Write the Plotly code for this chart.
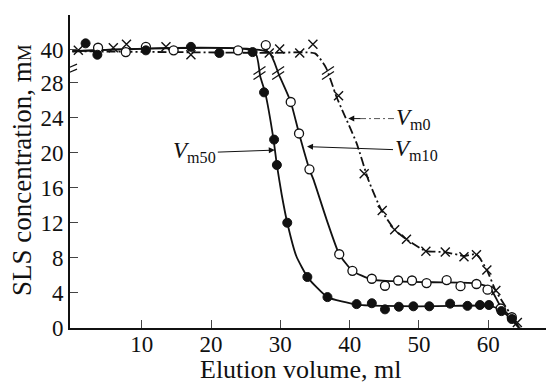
import numpy as np
import plotly.graph_objects as go

# ---------------- data (real SLS concentration, mM) ----------------
# V_m50 : filled circles
vm50_x = [1.9, 3.6, 10.6, 17.1, 21.2, 26.0, 27.65, 29.1, 29.5, 31.0, 33.9, 36.8, 41.0, 43.2,
          45.1, 47.1, 49.2, 51.5, 54.5, 57.0, 58.8, 60.1, 61.9, 63.4]
vm50_y = [40.7, 39.4, 39.9, 40.3, 39.6, 39.7, 26.9, 21.5, 18.6, 12.0, 5.8, 3.5, 2.7, 2.8,
          2.1, 2.4, 2.45, 2.45, 2.75, 2.5, 2.6, 2.6, 1.9, 1.0]
# V_m10 : open circles
vm10_x = [3.7, 7.7, 10.6, 14.6, 23.9, 27.9, 31.5, 32.7, 34.2, 38.5, 40.4, 43.2, 45.1, 47.0,
          49.0, 51.1, 54.0, 56.0, 58.3, 59.9, 61.8, 63.4]
vm10_y = [40.2, 39.7, 40.3, 39.9, 39.9, 40.5, 25.8, 22.2, 18.1, 8.4, 6.5, 5.6, 4.8, 5.4,
          5.4, 5.1, 5.45, 4.75, 5.0, 4.35, 2.2, 1.2]
# V_m0 : crosses
vm0_x = [0.85, 5.9, 7.8, 13.5, 17.1, 28.4, 29.9, 32.8, 34.7, 38.4, 42.1, 44.7, 46.5, 48.2,
         51.0, 53.8, 56.5, 58.3, 59.8, 61.1, 64.2]
vm0_y = [39.9, 40.2, 40.6, 40.3, 39.4, 39.6, 40.05, 39.6, 40.6, 26.5, 17.6, 13.4, 11.2, 10.1,
         8.75, 8.65, 8.1, 8.35, 6.6, 4.25, 0.6]

# hand-drawn curves
c50_x = [0, 26.3, 27.1, 27.8, 29.0, 29.5, 30.2, 31.0, 32.3, 34.0, 36.8, 41.0, 45.0, 50.0, 55.0,
         60.3, 61.8, 63.3, 64.4]
c50_y = [39.8, 39.75, 30.0, 26.9, 21.6, 18.6, 15.2, 12.0, 8.2, 5.7, 3.5, 2.65, 2.5, 2.45, 2.5,
         2.5, 2.0, 1.0, 0.0]
c10_x = [0, 28.3, 29.8, 31.5, 32.7, 34.2, 34.8, 36.7, 38.5, 40.4, 43.2, 47.0, 52.0, 58.0,
         60.2, 61.8, 63.4, 64.5]
c10_y = [39.8, 39.7, 31.4, 25.8, 22.2, 18.1, 16.9, 12.3, 8.4, 6.5, 5.5, 5.3, 5.2, 5.1,
         4.6, 2.4, 1.1, 0.0]
c0_x = [0, 28.4, 35.0, 36.6, 38.1, 41.0, 42.7, 44.6, 46.5, 48.2, 51.0, 53.8, 56.5,
        58.3, 59.8, 61.1, 64.1, 64.6]
c0_y = [39.8, 39.6, 39.55, 37.3, 26.4, 21.1, 16.9, 13.4, 11.2, 10.1, 8.77, 8.65, 8.2,
        8.4, 6.6, 4.2, 0.5, 0.0]

y_ticks = [0, 4, 8, 12, 16, 20, 24, 28, 40]
x_ticks = [10, 20, 30, 40, 50, 60]

# ---------------- broken y axis: 28 .. 40 is compressed ----------------
def disp(v):
    return np.interp(np.asarray(v, dtype=float), [0, 28.5, 38.0, 50.0], [0, 28.5, 29.8, 41.8])

BREAK_Y = 29.1
XR = [-0.35, 69.2]
YR = [-0.03, 35.74]
FONT = "Liberation Serif"
INK = "#111111"

fig = go.Figure()

def curve(x, y, dash):
    fig.add_trace(go.Scatter(x=x, y=disp(y), mode="lines", line=dict(color=INK, width=1.8, dash=dash,
                                                                  shape="spline", smoothing=0.5),
                             hoverinfo="skip", showlegend=False))

curve(c0_x, c0_y, "9px,3px,2px,3px")
curve(c10_x, c10_y, "solid")
curve(c50_x, c50_y, "solid")

fig.add_trace(go.Scatter(x=vm0_x, y=disp(vm0_y), mode="markers", showlegend=False,
                         marker=dict(symbol="x-thin", size=9, line=dict(color=INK, width=1.4))))
fig.add_trace(go.Scatter(x=vm10_x, y=disp(vm10_y), mode="markers", showlegend=False,
                         marker=dict(symbol="circle", size=9, color="white", line=dict(color=INK, width=1.3))))
fig.add_trace(go.Scatter(x=vm50_x, y=disp(vm50_y), mode="markers", showlegend=False,
                         marker=dict(symbol="circle", size=9, color=INK, line=dict(color=INK, width=1))))

shapes = []
# axis break marks
for dy in (-2.5, 2.5):
    shapes.append(dict(type="line", xref="x", yref="y", xsizemode="pixel", ysizemode="pixel",
                       xanchor=XR[0], yanchor=29.5, x0=-7, x1=7, y0=-3 + dy, y1=3 + dy,
                       line=dict(color=INK, width=1.2)))

def break_x(cx, cy):
    yd = disp(cy)
    for i in range(1, len(yd)):
        if yd[i] < BREAK_Y <= yd[i - 1]:
            t = (yd[i - 1] - BREAK_Y) / (yd[i - 1] - yd[i])
            return cx[i - 1] + t * (cx[i] - cx[i - 1])
    return None

for cx, cy in ((c50_x, c50_y), (c10_x, c10_y), (c0_x, c0_y)):
    bx = break_x(cx, cy)
    for dy in (-2.5, 2.5):
        shapes.append(dict(type="line", xref="x", yref="y", xsizemode="pixel", ysizemode="pixel",
                           xanchor=bx, yanchor=BREAK_Y, x0=-6, x1=6, y0=-4 + dy, y1=4 + dy,
                           line=dict(color=INK, width=1.2)))

# dash-dot part of the V_m0 leader
shapes.append(dict(type="line", xref="x", yref="y", x0=41.5, x1=46.4, y0=23.9, y1=23.9,
                   line=dict(color="#555555", width=1, dash="6px,3px,2px,3px")))

lab_font = dict(family=FONT, size=23, color=INK)
annotations = [
    dict(x=39.8, y=23.9, xref="x", yref="y", text="<i>V</i><sub>m0</sub>", showarrow=True,
         ax=46, ay=0, xanchor="left", yanchor="middle", startstandoff=34, arrowhead=2,
         arrowsize=1.2, arrowwidth=1, arrowcolor=INK, font=lab_font),
    dict(x=33.85, y=20.7, xref="x", yref="y", text="<i>V</i><sub>m10</sub>", showarrow=True,
         ax=86, ay=3, xanchor="left", yanchor="middle", arrowhead=2,
         arrowsize=1.2, arrowwidth=1, arrowcolor=INK, font=lab_font),
    dict(x=29.2, y=20.3, xref="x", yref="y", text="<i>V</i><sub>m50</sub>", showarrow=True,
         ax=-57, ay=2, xanchor="right", yanchor="middle", arrowhead=2,
         arrowsize=1.2, arrowwidth=1, arrowcolor=INK, font=lab_font),
]

title_font = dict(family=FONT, size=26, color=INK)
annotations.append(dict(x=0.479, y=-0.186, xref="paper", yref="paper", yanchor="bottom",
                        text="Elution volume, ml", showarrow=False, font=title_font))
annotations.append(dict(x=-0.0996, y=0.505, xref="paper", yref="paper", xanchor="center",
                        yanchor="middle",
                        text="SLS concentration, m<span style='font-size:19px'>M</span>",
                        textangle=-90, showarrow=False, font=dict(family=FONT, size=27, color=INK)))

fig.update_layout(
    width=546, height=379,
    margin=dict(l=62, r=2, t=7, b=59),
    paper_bgcolor="white", plot_bgcolor="white",
    font=dict(family=FONT, color=INK),
    shapes=shapes, annotations=annotations,
    xaxis=dict(range=XR, showgrid=False, zeroline=False, showline=True, linecolor=INK, linewidth=1.6,
               tickmode="array", tickvals=x_ticks, ticktext=[str(v) for v in x_ticks],
               ticks="inside", ticklen=8, tickcolor="#444444", tickwidth=1, ticklabelstandoff=-5,
               tickfont=dict(family=FONT, size=23, color=INK)),
    yaxis=dict(range=YR, showgrid=False, zeroline=False, showline=True, linecolor=INK, linewidth=1.6,
               tickmode="array", tickvals=list(disp(y_ticks)), ticktext=[str(v) for v in y_ticks],
               ticks="inside", ticklen=8, tickcolor="#444444", tickwidth=1,
               tickfont=dict(family=FONT, size=23, color=INK)),
)

fig.write_html("out.html")
